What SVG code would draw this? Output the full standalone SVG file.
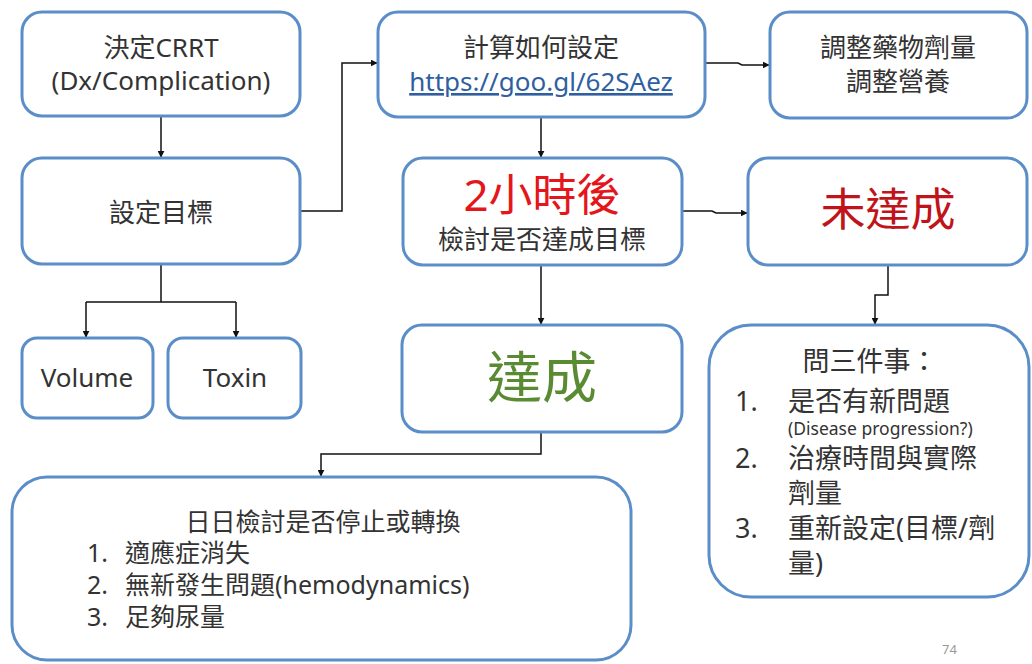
<svg xmlns="http://www.w3.org/2000/svg" width="1032" height="664" viewBox="0 0 1032 664">
<defs>
<style>
.box{fill:#ffffff;stroke:#5b8ec8;stroke-width:3}
.t{font-family:"Noto Sans","Noto Sans CJK TC",sans-serif;fill:#333333;font-size:26px}
.c{text-anchor:middle}
.m{font-size:25px}
.b{font-size:27px}
.conn{fill:none;stroke:#111111;stroke-width:1.5}
</style>
<marker id="ah" viewBox="0 0 10 10" refX="9" refY="5" markerWidth="7" markerHeight="7" orient="auto" markerUnits="userSpaceOnUse">
<path d="M0,0 L10,5 L0,10 z" fill="#111111"/>
</marker>
</defs>
<rect width="1032" height="664" fill="#ffffff"/>

<g id="connectors">
<path class="conn" d="M161,116 V157" marker-end="url(#ah)"/>
<path class="conn" d="M300,211 H342 V63 H377" marker-end="url(#ah)"/>
<path class="conn" d="M705,63 H738 L742,65 H769" marker-end="url(#ah)"/>
<path class="conn" d="M541,117 V157" marker-end="url(#ah)"/>
<path class="conn" d="M682,211 H712 L716,213 H747" marker-end="url(#ah)"/>
<path class="conn" d="M161,264 V302 M86,302 H236" />
<path class="conn" d="M86,302 V337" marker-end="url(#ah)"/>
<path class="conn" d="M236,302 V337" marker-end="url(#ah)"/>
<path class="conn" d="M541,265 V324" marker-end="url(#ah)"/>
<path class="conn" d="M888,265 V295 H875 V324" marker-end="url(#ah)"/>
<path class="conn" d="M541,432 V454 H321 V476" marker-end="url(#ah)"/>
</g>

<g id="n-crrt">
<rect class="box" x="22" y="12" width="278" height="104" rx="20"/>
<text class="t c" x="161" y="57">決定CRRT</text>
<text class="t c" x="161" y="90">(Dx/Complication)</text>
</g>

<g id="n-goal">
<rect class="box" x="22" y="158" width="278" height="106" rx="20"/>
<text class="t c" x="161" y="222">設定目標</text>
</g>

<g id="n-calc">
<rect class="box" x="378" y="12" width="327" height="105" rx="20"/>
<text class="t c" x="541" y="57">計算如何設定</text>
<text class="t c" x="541" y="91" style="fill:#2f5fa0;text-decoration:underline">https://goo.gl/62SAez</text>
</g>

<g id="n-adjust">
<rect class="box" x="770" y="12" width="257" height="106" rx="20"/>
<text class="t c" x="898" y="57">調整藥物劑量</text>
<text class="t c" x="898" y="91">調整營養</text>
</g>

<g id="n-2h">
<rect class="box" x="403" y="158" width="279" height="107" rx="20"/>
<text class="t c" x="542" y="211" style="font-size:44px;fill:#e5161b">2小時後</text>
<text class="t c" x="542" y="249">檢討是否達成目標</text>
</g>

<g id="n-notmet">
<rect class="box" x="748" y="158" width="279" height="107" rx="20"/>
<text class="t c" x="888" y="226" style="font-size:45px;fill:#c0141a">未達成</text>
</g>

<g id="n-volume">
<rect class="box" x="22" y="338" width="131" height="80" rx="15"/>
<text class="t c" x="87" y="387">Volume</text>
</g>

<g id="n-toxin">
<rect class="box" x="168" y="338" width="133" height="80" rx="15"/>
<text class="t c" x="235" y="387">Toxin</text>
</g>

<g id="n-met">
<rect class="box" x="402" y="325" width="280" height="107" rx="20"/>
<text class="t c" x="542" y="397" style="font-size:55px;fill:#5a8a32">達成</text>
</g>

<g id="n-daily">
<rect class="box" x="12" y="477" width="619" height="183" rx="35"/>
<text class="t c m" x="323" y="531">日日檢討是否停止或轉換</text>
<text class="t m" x="87" y="562">1.</text>
<text class="t m" x="125" y="562">適應症消失</text>
<text class="t m" x="87" y="594">2.</text>
<text class="t m" x="125" y="594">無新發生問題(hemodynamics)</text>
<text class="t m" x="87" y="626">3.</text>
<text class="t m" x="125" y="626">足夠尿量</text>
</g>

<g id="n-three">
<rect class="box" x="709" y="325" width="320" height="272" rx="42"/>
<text class="t c b" x="870" y="371">問三件事：</text>
<text class="t b" x="735" y="411">1.</text>
<text class="t b" x="788" y="411">是否有新問題</text>
<text class="t" x="788" y="435" style="font-size:17.5px">(Disease progression?)</text>
<text class="t b" x="735" y="468">2.</text>
<text class="t b" x="788" y="468">治療時間與實際</text>
<text class="t b" x="788" y="503">劑量</text>
<text class="t b" x="735" y="538">3.</text>
<text class="t b" x="788" y="538">重新設定(目標/劑</text>
<text class="t b" x="788" y="573">量)</text>
</g>

<text class="t" x="942" y="654" style="font-size:13px;fill:#999999">74</text>
</svg>
